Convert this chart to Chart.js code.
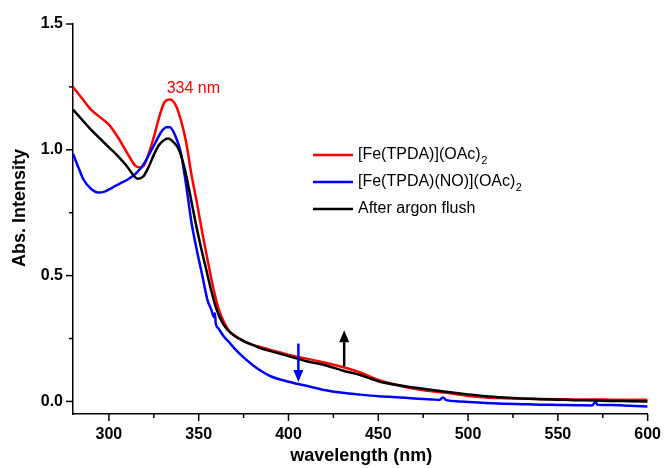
<!DOCTYPE html>
<html>
<head>
<meta charset="utf-8">
<script src="https://cdn.jsdelivr.net/npm/chart.js@4.4.1/dist/chart.umd.min.js"></script>
<style>
  html, body { margin: 0; padding: 0; background: #fff; }
  #wrap { width: 665px; height: 468px; }
</style>
</head>
<body>
<div id="wrap"><canvas id="c" width="665" height="468"></canvas></div>
<script>
// UV-vis absorbance spectra (wavelength in nm, absorbance in a.u.)
const redWavelength = [280, 285, 290, 295, 300, 305, 310, 315, 318, 320, 325, 328, 331, 334, 337, 340, 343, 346, 349, 352, 355, 358, 361, 364, 367, 370, 375, 380, 385, 390, 400, 410, 420, 430, 440, 450, 460, 470, 480, 490, 500, 510, 520, 530, 540, 550, 560, 570, 580, 590, 600];
const redAbs = [1.25, 1.205, 1.16, 1.13, 1.10, 1.05, 0.99, 0.935, 0.93, 0.945, 1.05, 1.13, 1.19, 1.20, 1.18, 1.12, 1.03, 0.90, 0.79, 0.67, 0.56, 0.455, 0.37, 0.315, 0.28, 0.262, 0.24, 0.225, 0.215, 0.205, 0.185, 0.17, 0.155, 0.137, 0.115, 0.085, 0.065, 0.05, 0.04, 0.032, 0.022, 0.016, 0.013, 0.011, 0.010, 0.009, 0.008, 0.008, 0.007, 0.007, 0.007];

const blueWavelength = [280, 283, 286, 290, 294, 298, 302, 306, 310, 315, 320, 323, 326, 329, 332, 334, 337, 340, 343, 346, 349, 352, 355, 357, 358.5, 359, 359.5, 361, 364, 367, 370, 375, 380, 385, 390, 395, 400, 405, 410, 420, 430, 440, 450, 460, 470, 480, 484, 486, 488, 495, 500, 510, 520, 530, 540, 550, 560, 569, 571, 572, 580, 590, 600];
const blueAbs = [0.985, 0.93, 0.88, 0.845, 0.83, 0.835, 0.85, 0.866, 0.88, 0.905, 0.95, 0.99, 1.03, 1.07, 1.09, 1.09, 1.055, 0.99, 0.86, 0.71, 0.60, 0.50, 0.40, 0.365, 0.335, 0.35, 0.31, 0.29, 0.258, 0.235, 0.21, 0.175, 0.145, 0.12, 0.10, 0.088, 0.078, 0.07, 0.062, 0.045, 0.034, 0.027, 0.021, 0.017, 0.012, 0.008, 0.006, 0.016, 0.005, 0.0, -0.002, -0.006, -0.009, -0.011, -0.013, -0.014, -0.015, -0.016, -0.002, -0.013, -0.014, -0.017, -0.02];

const blackWavelength = [280, 285, 290, 295, 300, 305, 310, 313, 316, 319, 322, 325, 328, 331, 333, 336, 339, 342, 345, 348, 351, 354, 357, 360, 363, 366, 370, 375, 380, 385, 390, 400, 410, 420, 430, 440, 450, 460, 470, 480, 490, 500, 510, 520, 530, 540, 550, 560, 570, 580, 590, 600];
const blackAbs = [1.16, 1.12, 1.08, 1.045, 1.01, 0.975, 0.935, 0.905, 0.885, 0.893, 0.93, 0.98, 1.02, 1.04, 1.045, 1.03, 1.0, 0.93, 0.83, 0.72, 0.62, 0.53, 0.44, 0.365, 0.315, 0.285, 0.26, 0.24, 0.225, 0.21, 0.20, 0.18, 0.16, 0.145, 0.123, 0.105, 0.08, 0.066, 0.055, 0.045, 0.036, 0.028, 0.021, 0.016, 0.012, 0.009, 0.007, 0.005, 0.004, 0.002, 0.001, 0.0];

const seriesLabels = ['[Fe(TPDA)](OAc)₂', '[Fe(TPDA)(NO)](OAc)₂', 'After argon flush'];
const seriesColors = ['#ff0000', '#0000ff', '#000000'];

// Peak annotation and change arrows (data coordinates)
const peakLabel = { text: '334 nm', x: 347, y: 1.245 };
const arrows = [
  { x: 405.5, from: 0.23, to: 0.077, color: '#0000ff' },
  { x: 431, from: 0.139, to: 0.283, color: '#000000' }
];

const xTicksMajor = [300, 350, 400, 450, 500, 550, 600];
const yTicksMajor = [0.0, 0.5, 1.0, 1.5];

const FONT = "'Liberation Sans', Arial, Helvetica, sans-serif";

function pts(xs, ys) { return xs.map((x, i) => ({ x: x, y: ys[i] })); }

// Outward tick marks (major + minor), axis titles, legend, arrows and label
const decor = {
  id: 'decor',
  afterDraw(chart) {
    const ctx = chart.ctx;
    const xs = chart.scales.x, ys = chart.scales.y;
    const ca = chart.chartArea;
    ctx.save();
    ctx.strokeStyle = '#000';
    ctx.lineWidth = 1.5;
    // x ticks
    for (let v = 300; v <= 600; v += 25) {
      const px = xs.getPixelForValue(v);
      const len = xTicksMajor.includes(v) ? 7 : 4;
      ctx.beginPath();
      ctx.moveTo(px, ca.bottom);
      ctx.lineTo(px, ca.bottom + len);
      ctx.stroke();
    }
    // y ticks
    for (let k = 0; k <= 6; k++) {
      const v = k * 0.25;
      const py = ys.getPixelForValue(v);
      const len = (k % 2 === 0) ? 7 : 4;
      ctx.beginPath();
      ctx.moveTo(ca.left, py);
      ctx.lineTo(ca.left - len, py);
      ctx.stroke();
    }

    // axis titles
    ctx.fillStyle = '#000';
    ctx.font = 'bold 18px ' + FONT;
    ctx.textAlign = 'center';
    ctx.textBaseline = 'middle';
    ctx.fillText('wavelength (nm)', (ca.left + ca.right) / 2 + 1, 456);
    ctx.save();
    ctx.translate(20, 208);
    ctx.rotate(-Math.PI / 2);
    ctx.fillText('Abs. Intensity', 0, 0);
    ctx.restore();

    // peak label
    ctx.fillStyle = '#ff0000';
    ctx.font = '16px ' + FONT;
    ctx.fillText(peakLabel.text, xs.getPixelForValue(peakLabel.x), ys.getPixelForValue(peakLabel.y));

    // arrows
    arrows.forEach(a => {
      const px = xs.getPixelForValue(a.x);
      const y0 = ys.getPixelForValue(a.from);
      const y1 = ys.getPixelForValue(a.to);
      const dir = Math.sign(y1 - y0);
      const head = 12;
      ctx.strokeStyle = a.color;
      ctx.fillStyle = a.color;
      ctx.lineWidth = 2.5;
      ctx.beginPath();
      ctx.moveTo(px, y0);
      ctx.lineTo(px, y1 - dir * head);
      ctx.stroke();
      ctx.beginPath();
      ctx.moveTo(px, y1);
      ctx.lineTo(px - 5, y1 - dir * head);
      ctx.lineTo(px + 5, y1 - dir * head);
      ctx.closePath();
      ctx.fill();
    });

    // legend
    const lx0 = 313, lx1 = 353, tx = 358, ly0 = 155, dy = 27;
    chart.data.datasets.forEach((ds, i) => {
      const y = ly0 + i * dy;
      ctx.strokeStyle = ds.borderColor;
      ctx.lineWidth = 2.5;
      ctx.beginPath();
      ctx.moveTo(lx0, y);
      ctx.lineTo(lx1, y);
      ctx.stroke();
      ctx.fillStyle = '#000';
      ctx.textAlign = 'left';
      ctx.textBaseline = 'middle';
      const label = ds.label;
      const sub = label.indexOf('₂');
      if (sub >= 0) {
        const main = label.slice(0, sub);
        ctx.font = '16px ' + FONT;
        ctx.fillText(main, tx, y);
        const w = ctx.measureText(main).width;
        ctx.font = '11px ' + FONT;
        ctx.fillText('2', tx + w + 0.5, y + 6);
      } else {
        ctx.font = '16px ' + FONT;
        ctx.fillText(label, tx, y);
      }
    });
    ctx.restore();
  }
};

const datasets = [
  { label: seriesLabels[0], data: pts(redWavelength, redAbs), borderColor: seriesColors[0], order: 2 },
  { label: seriesLabels[1], data: pts(blueWavelength, blueAbs), borderColor: seriesColors[1], order: 1 },
  { label: seriesLabels[2], data: pts(blackWavelength, blackAbs), borderColor: seriesColors[2], order: 0 }
];
datasets.forEach(d => {
  d.borderWidth = 2.5;
  d.pointRadius = 0;
  d.cubicInterpolationMode = 'monotone';
  d.fill = false;
  d.borderJoinStyle = 'round';
  d.backgroundColor = d.borderColor;
});

new Chart(document.getElementById('c'), {
  type: 'line',
  data: { datasets: datasets },
  options: {
    responsive: false,
    animation: false,
    layout: { padding: { top: 24, right: 16, left: 0, bottom: 0 } },
    plugins: { legend: { display: false }, tooltip: { enabled: false } },
    scales: {
      x: {
        type: 'linear',
        min: 280, max: 600,
        afterFit(s) { s.height = 54; },
        border: { display: true, color: '#000', width: 1.5 },
        grid: { display: true, drawOnChartArea: false, drawTicks: true, tickLength: 7, color: 'rgba(0,0,0,0)' },
        ticks: {
          stepSize: 50,
          padding: 4,
          color: '#000',
          font: { family: FONT, size: 16, weight: 'bold' },
          maxRotation: 0,
          callback: v => (xTicksMajor.includes(v) ? String(v) : '')
        },
        afterBuildTicks(s) { s.ticks = xTicksMajor.map(v => ({ value: v })); }
      },
      y: {
        type: 'linear',
        min: -0.05, max: 1.5,
        afterFit(s) { s.width = 73; },
        border: { display: true, color: '#000', width: 1.5 },
        grid: { display: true, drawOnChartArea: false, drawTicks: true, tickLength: 7, color: 'rgba(0,0,0,0)' },
        ticks: {
          padding: 3,
          color: '#000',
          font: { family: FONT, size: 16, weight: 'bold' },
          callback: v => v.toFixed(1)
        },
        afterBuildTicks(s) { s.ticks = yTicksMajor.map(v => ({ value: v })); }
      }
    }
  },
  plugins: [decor]
});
</script>
</body>
</html>
